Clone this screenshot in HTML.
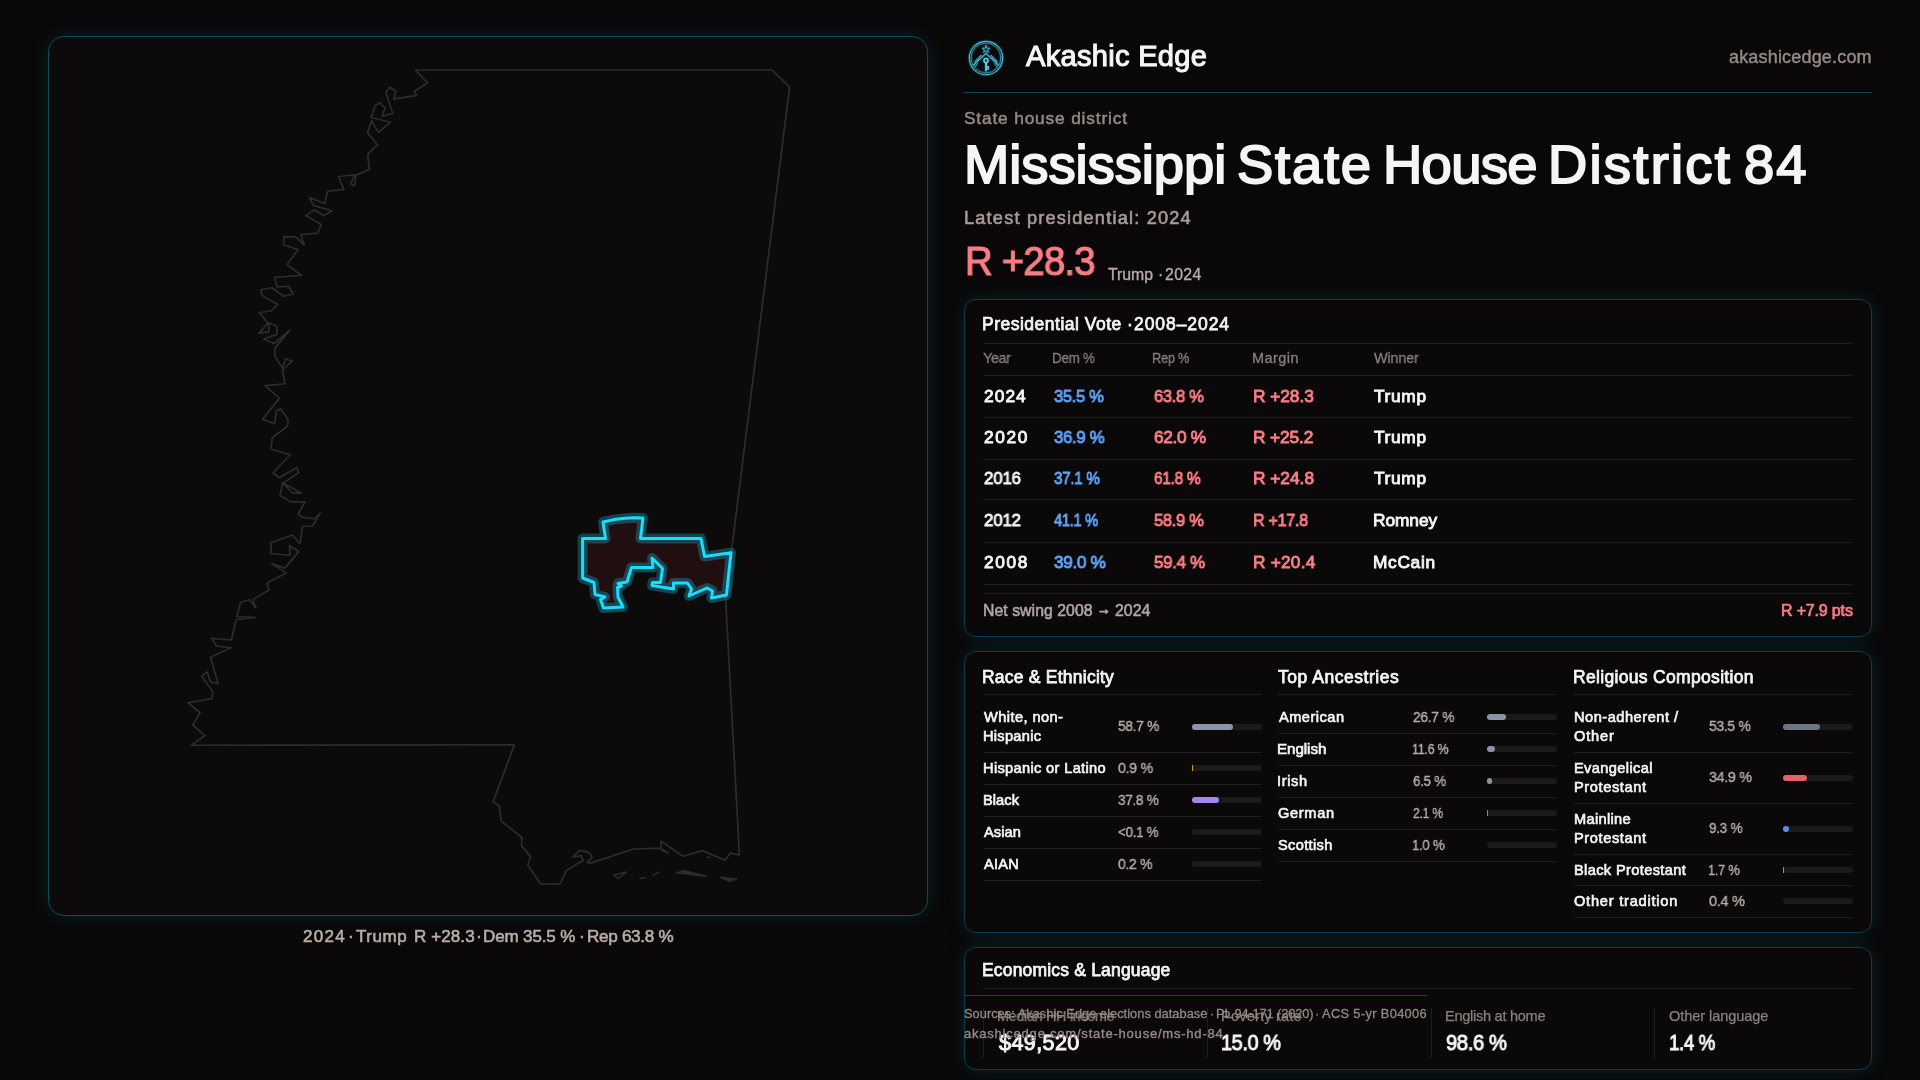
<!DOCTYPE html>
<html lang="en">
<head>
<meta charset="utf-8">
<title>Mississippi State House District 84 · Akashic Edge</title>
<style>
  *{box-sizing:border-box;margin:0;padding:0}
  html,body{width:1920px;height:1080px;overflow:hidden;background:#090708}
  body{font-family:"Liberation Sans",sans-serif;color:#f7f5f3;position:relative}
  .abs{position:absolute;white-space:nowrap;line-height:1;font-weight:400;will-change:transform}
  .map-panel{position:absolute;left:48px;top:36px;width:880px;height:880px;border:1px solid #0f4a58;border-radius:16px;background:#0c0a0b;box-shadow:0 0 20px rgba(26,217,252,.13)}
  .map-svg{position:absolute;left:0;top:0;width:1920px;height:1080px;pointer-events:none}
  .card{position:absolute;left:964px;width:908px;border:1px solid #0b3d4b;border-radius:12px;background:#0a0809;box-shadow:0 0 20px rgba(26,217,252,.13)}
  .hr{position:absolute;height:1px;background:#201d1e}
  .vr{position:absolute;width:1px;background:#201d1e}
  .bar{position:absolute;width:70px;height:6px;border-radius:3px;background:#1c191a}
  .bar i{display:block;height:6px;border-radius:3px}
</style>
</head>
<body>
<section aria-label="District map"><div class="map-panel"></div>
<svg class="map-svg" viewBox="0 0 1920 1080">
<path d="M415.4,70 L427.5,82.7 L414.2,91.5 L416.7,95.4 L393.75,99.2 L395.8,91.25 L390,87.1 L385.8,92.5 L392.9,113.3 L382.1,116.5 L385,107.9 L380,102.7 L375,105.8 L371.25,117.5 L390.4,122.3 L378.3,132.5 L371.8,120.8 L367.5,132.9 L377.5,144.7 L368.75,153.1 L367.75,155.6 L369.4,169.4 L356,175.25 L354.4,185.6 L350.6,184 L354.75,174.75 L338.5,176.5 L343.75,189.4 L327.5,191.25 L324.75,203.5 L309.4,197.5 L313.5,205.4 L332.25,211 L323.75,215.6 L314.4,210 L305.6,215.6 L321.25,224.6 L317.5,233.1 L300.6,234.75 L304.4,245 L295.6,236.9 L284,236.6 L283.5,244.75 L298.1,249.75 L286.9,264.6 L301.5,275.25 L274.4,277.5 L277.25,286.9 L288.5,286.25 L293.1,294 L283.75,296.25 L271.9,287.75 L261,289.75 L261.9,295.6 L277.75,304.4 L271,311 L259.1,312.5 L268.1,323.1 L258.75,333.1 L268.75,331.9 L269,323.1 L276.9,326 L276.9,334.4 L263.5,339 L274,343.5 L289.4,330.6 L275,348.1 L274.75,356.25 L282.5,368.1 L285.6,359 L292.25,361 L282.5,370 L285,383.75 L265,385.6 L279.4,398.1 L262.5,419.4 L274.75,423.75 L276.5,410.6 L281,409 L288.1,420 L287.5,426.25 L272.25,437.75 L271,449 L290.25,454.75 L273.1,472.75 L279,477.75 L296.9,467.75 L298.75,472.75 L283.1,483.1 L301.25,493.1 L292.5,493.1 L282.75,482.75 L280,495.25 L290.25,501.9 L305,501.9 L298.1,514 L301.25,516.9 L314.4,518.75 L320.4,513.1 L312.5,526 L302.5,526.5 L300,543.75 L292.5,535 L271,542.75 L271.25,553.75 L290,555.25 L289.4,545.6 L298.75,551.5 L285,568.1 L271.9,563.75 L286.5,573.1 L266.9,583.1 L269,590 L253.1,599.4 L256,608.1 L249.4,599.75 L240.6,602.5 L236.9,616.5 L255.6,617.5 L236.25,619.4 L231.4,639.8 L211.5,638.5 L216.5,646 L231,647.75 L210.6,657.25 L218.1,683.75 L210.6,681.9 L207.1,671.9 L201.6,675.9 L213.1,691.9 L211.5,698.75 L188.1,702.75 L200,712.75 L192.75,725 L205,735.6 L191.25,745.25 L514.4,744.9 L493.1,801.9 L499.4,806 L501.25,821 L521.9,837.5 L521.5,845.6 L530.6,856.9 L527.75,865 L540.6,884 L560,884 L566.25,870.6 L583.1,860.6 L581,855.6 L573.1,856.9 L579.4,850.6 L588.1,851.9 L592.25,856.9 L587.25,862.5 L590.6,863.1 L633.75,849 L660.6,848.1 L668.1,853.1 L661.5,850 L661,841.25 L683.1,856.25 L702.5,850.6 L725,860.25 L730.25,853.1 L739.4,855 L725.6,598 L789.6,87.1 L772.1,70Z" fill="none" stroke="#2e2b2c" stroke-width="1.7" stroke-linejoin="round"/>
<path d="M613.75,875.25 L626.25,871.9 L618.5,878.5Z" fill="none" stroke="#2e2b2c" stroke-width="1.5" stroke-linejoin="round"/>
<path d="M639.4,878.5 L645.6,877.75" fill="none" stroke="#2e2b2c" stroke-width="1.5" stroke-linejoin="round"/>
<path d="M652.5,875.6 L659.4,871.6" fill="none" stroke="#2e2b2c" stroke-width="1.5" stroke-linejoin="round"/>
<path d="M676.25,872.75 L685,870.6 L706.25,876.25Z" fill="#2e2b2c" stroke="#2e2b2c" stroke-width="1.5" stroke-linejoin="round"/>
<path d="M720,877.25 L729.4,881.25 L736.9,879Z" fill="#2e2b2c" stroke="#2e2b2c" stroke-width="1.5" stroke-linejoin="round"/>
<path d="M706.9,856.9 L710.6,857.75" fill="none" stroke="#2e2b2c" stroke-width="1.5" stroke-linejoin="round"/>
<path d="M603,522 L614,519.6 L625,518.2 L634,517.8 L643,518 L640.5,538.5 L701,538.5 L704.5,556.5 L731,552.8 L726.5,595 L711.5,598 L712.5,591 L707,588 L689,596 L691.5,589 L687.5,583 L673.5,583 L673.5,589 L652,585.5 L652.5,582.5 L660.5,582.5 L662.5,568.5 L652,558 L653,567.5 L631.5,567.5 L627,582 L618,583.5 L621.5,586 L617.5,587.5 L618,597 L623,607 L603.5,608 L600.5,599.5 L605,597 L595,594.5 L594,582.5 L582.6,578 L582.6,538.5 L605.5,538.5Z" fill="#200e10" stroke="#1ad9fc" stroke-opacity="0.28" stroke-width="10" stroke-linejoin="round"/>
<path d="M603,522 L614,519.6 L625,518.2 L634,517.8 L643,518 L640.5,538.5 L701,538.5 L704.5,556.5 L731,552.8 L726.5,595 L711.5,598 L712.5,591 L707,588 L689,596 L691.5,589 L687.5,583 L673.5,583 L673.5,589 L652,585.5 L652.5,582.5 L660.5,582.5 L662.5,568.5 L652,558 L653,567.5 L631.5,567.5 L627,582 L618,583.5 L621.5,586 L617.5,587.5 L618,597 L623,607 L603.5,608 L600.5,599.5 L605,597 L595,594.5 L594,582.5 L582.6,578 L582.6,538.5 L605.5,538.5Z" fill="none" stroke="#19dcff" stroke-width="3" stroke-linejoin="round"/>
</svg>
<p class="map-caption">
<span id="cap0" class="abs " style="top:928.00px;font-size:17.0px;left:302.79px;letter-spacing:1.333px;-webkit-text-stroke:0.6px currentColor;color:#b9aca7;">2024</span>
<span id="cap1" class="abs " style="top:928.00px;font-size:17.5px;left:347.50px;-webkit-text-stroke:0.55px currentColor;color:#b9aca7;">·</span>
<span id="cap2" class="abs " style="top:928.00px;font-size:17.0px;left:356.20px;letter-spacing:0.550px;-webkit-text-stroke:0.6px currentColor;color:#b9aca7;">Trump</span>
<span id="cap3" class="abs " style="top:928.00px;font-size:17.0px;left:413.50px;letter-spacing:0.102px;-webkit-text-stroke:0.6px currentColor;color:#b9aca7;">R +28.3</span>
<span id="cap4" class="abs " style="top:928.00px;font-size:17.5px;left:476.20px;-webkit-text-stroke:0.55px currentColor;color:#b9aca7;">·</span>
<span id="cap5" class="abs " style="top:928.00px;font-size:17.0px;left:483.20px;letter-spacing:-0.133px;-webkit-text-stroke:0.6px currentColor;color:#b9aca7;">Dem 35.5 %</span>
<span id="cap6" class="abs " style="top:928.00px;font-size:17.5px;left:579.40px;-webkit-text-stroke:0.55px currentColor;color:#b9aca7;">·</span>
<span id="cap7" class="abs " style="top:928.00px;font-size:17.0px;left:587.00px;letter-spacing:-0.300px;transform:scaleX(1.0058);transform-origin:0 0;-webkit-text-stroke:0.6px currentColor;color:#b9aca7;">Rep 63.8 %</span>
</p>
</section>
<header>
<svg class="abs" style="left:966px;top:38px;width:40px;height:40px;filter:drop-shadow(0 0 1.2px rgba(40,190,230,.55))" viewBox="-20 -20 40 40" role="img" aria-label="Akashic Edge logo">
  <g fill="none" stroke="#4fc2da" stroke-linecap="round" stroke-linejoin="round">
    <circle r="16.7" stroke-width="1.2" stroke="#47b6ce"/>
    <circle r="14.9" stroke-width="0.9" stroke="#3799b2"/>
    <path d="M0,-4.6 L-12.4,7 M0,-4.6 L12.4,7" stroke-width="1.25"/>
    <path d="M-4.9,-2.6 L-11,3.6 M4.9,-2.6 L11,3.6" stroke-width="1.1" stroke="#43b3cc"/>
    <path d="M-8.6,5.6 L-10.6,8.6 M8.6,5.6 L10.6,8.6" stroke-width="0.9" stroke="#43b3cc"/>
    <path d="M0,-12.6 L1.05,-9.9 L4,-9.9 L1.7,-8.1 L2.5,-5.4 L0,-7 L-2.5,-5.4 L-1.7,-8.1 L-4,-9.9 L-1.05,-9.9 Z" stroke-width="0.8" fill="#4fc2da" fill-opacity=".15"/>
    <circle cx="0" cy="2.6" r="2.05" stroke-width="1.5" stroke="#6ad3e8"/>
    <path d="M0,4.9 L0,12.5" stroke-width="1.8" stroke="#6ad3e8"/>
    <path d="M0.8,8.6 L2.3,8.6 M0.8,10.9 L2.5,10.9 M2.4,8.6 L2.4,10.9" stroke-width="1.1" stroke="#6ad3e8"/>
  </g>
</svg>

<span id="brand" class="abs " style="top:42.00px;font-size:29.1px;left:1026.00px;letter-spacing:0.273px;-webkit-text-stroke:1.1px currentColor;color:#f7f5f3;">Akashic Edge</span>
<span id="site" class="abs " style="top:48.00px;font-size:18px;left:1729.00px;letter-spacing:0.179px;-webkit-text-stroke:0.45px currentColor;color:#968884;">akashicedge.com</span>
<div class="hr" style="left:964px;top:92px;width:908px;background:#0e4553;"></div>
</header>
<section aria-label="District summary">
<p id="kicker" class="abs " style="top:110.00px;font-size:17.3px;left:964.00px;letter-spacing:0.842px;-webkit-text-stroke:0.5px currentColor;color:#968884;">State house district</p>
<h1 style="font-weight:400">
<span id="title0" class="abs " style="top:138.00px;font-size:54.4px;left:963.50px;letter-spacing:-0.075px;transform:scaleX(1.0002);transform-origin:0 0;-webkit-text-stroke:1.9px currentColor;color:#f7f5f3;">Mississippi</span>
<span id="title1" class="abs " style="top:138.00px;font-size:54.4px;left:1237.00px;letter-spacing:1.775px;-webkit-text-stroke:1.9px currentColor;color:#f7f5f3;">State</span>
<span id="title2" class="abs " style="top:138.00px;font-size:54.4px;left:1383.00px;letter-spacing:-0.700px;transform:scaleX(0.9972);transform-origin:0 0;-webkit-text-stroke:1.9px currentColor;color:#f7f5f3;">House</span>
<span id="title3" class="abs " style="top:138.00px;font-size:54.4px;left:1548.00px;letter-spacing:2.244px;-webkit-text-stroke:1.9px currentColor;color:#f7f5f3;">District</span>
<span id="title4" class="abs " style="top:138.00px;font-size:54.4px;left:1744.00px;letter-spacing:1.900px;-webkit-text-stroke:1.9px currentColor;color:#f7f5f3;">84</span>
</h1>
<p id="latest" class="abs " style="top:209.00px;font-size:18.2px;left:964.00px;letter-spacing:1.187px;-webkit-text-stroke:0.6px currentColor;color:#a89a96;">Latest presidential: 2024</p>
<span id="bigm" class="abs " style="top:242.00px;font-size:39.9px;left:965.00px;letter-spacing:-0.798px;transform:scaleX(0.9599);transform-origin:0 0;-webkit-text-stroke:1.2px currentColor;color:#fa7d83;">R +28.3</span>
<p> <span id="bigs0" class="abs " style="top:267.00px;font-size:15.8px;left:1108.20px;-webkit-text-stroke:0.35px currentColor;color:#b9aca7;">Trump</span> <span id="bigs1" class="abs " style="top:267.00px;font-size:15.8px;left:1157.77px;-webkit-text-stroke:0.35px currentColor;color:#b9aca7;">·</span> <span id="bigs2" class="abs " style="top:267.00px;font-size:15.8px;left:1165.20px;letter-spacing:0.367px;-webkit-text-stroke:0.35px currentColor;color:#b9aca7;">2024</span> </p>
</section>
<section aria-label="Presidential vote"><div class="card" style="top:299px;height:338px"></div>
<h2 style="font-weight:400"> <span id="c1t0" class="abs " style="top:316.00px;font-size:17.5px;left:982.00px;letter-spacing:0.500px;-webkit-text-stroke:0.75px currentColor;color:#f7f5f3;">Presidential Vote</span> <span id="c1t1" class="abs " style="top:316.00px;font-size:17.5px;left:1126.69px;-webkit-text-stroke:0.75px currentColor;color:#f7f5f3;">·</span> <span id="c1t2" class="abs " style="top:316.00px;font-size:17.5px;left:1134.00px;letter-spacing:0.938px;-webkit-text-stroke:0.75px currentColor;color:#f7f5f3;">2008–2024</span> </h2>
<div class="hr" style="left:983px;top:343px;width:870px;"></div>
<span id="th0" class="abs " style="top:351.00px;font-size:14.5px;left:983.00px;letter-spacing:-0.290px;transform:scaleX(0.9835);transform-origin:0 0;-webkit-text-stroke:0.3px currentColor;color:#8c7f7b;">Year</span>
<span id="th1" class="abs " style="top:351.00px;font-size:14.5px;left:1052.00px;letter-spacing:-0.290px;transform:scaleX(0.9236);transform-origin:0 0;-webkit-text-stroke:0.3px currentColor;color:#8c7f7b;">Dem %</span>
<span id="th2" class="abs " style="top:351.00px;font-size:14.5px;left:1152.00px;letter-spacing:-0.290px;transform:scaleX(0.8804);transform-origin:0 0;-webkit-text-stroke:0.3px currentColor;color:#8c7f7b;">Rep %</span>
<span id="th3" class="abs " style="top:351.00px;font-size:14.5px;left:1252.00px;letter-spacing:0.450px;-webkit-text-stroke:0.3px currentColor;color:#8c7f7b;">Margin</span>
<span id="th4" class="abs " style="top:351.00px;font-size:14.5px;left:1374.00px;letter-spacing:-0.150px;transform:scaleX(0.9913);transform-origin:0 0;-webkit-text-stroke:0.3px currentColor;color:#8c7f7b;">Winner</span>
<div class="hr" style="left:983px;top:375px;width:870px;"></div>
<span id="r0c0" class="abs " style="top:388.00px;font-size:17.3px;left:983.50px;letter-spacing:1.079px;-webkit-text-stroke:0.9px currentColor;color:#f7f5f3;">2024</span>
<span id="r0c1" class="abs " style="top:388.00px;font-size:17.3px;left:1053.50px;letter-spacing:-0.346px;transform:scaleX(0.9566);transform-origin:0 0;-webkit-text-stroke:0.9px currentColor;color:#5fa2f7;">35.5 %</span>
<span id="r0c2" class="abs " style="top:388.00px;font-size:17.3px;left:1153.50px;letter-spacing:-0.346px;transform:scaleX(0.9566);transform-origin:0 0;-webkit-text-stroke:0.9px currentColor;color:#fa7d83;">63.8 %</span>
<span id="r0c3" class="abs " style="top:388.00px;font-size:17.3px;left:1252.50px;letter-spacing:-0.042px;transform:scaleX(1.0005);transform-origin:0 0;-webkit-text-stroke:0.9px currentColor;color:#fa7d83;">R +28.3</span>
<span id="r0c4" class="abs " style="top:388.00px;font-size:17.3px;left:1373.50px;letter-spacing:0.688px;-webkit-text-stroke:0.9px currentColor;color:#f7f5f3;">Trump</span>
<div class="hr" style="left:983px;top:417px;width:870px;"></div>
<span id="r1c0" class="abs " style="top:429.00px;font-size:17.3px;left:983.50px;letter-spacing:1.667px;-webkit-text-stroke:0.9px currentColor;color:#f7f5f3;">2020</span>
<span id="r1c1" class="abs " style="top:429.00px;font-size:17.3px;left:1053.50px;letter-spacing:-0.346px;transform:scaleX(0.9713);transform-origin:0 0;-webkit-text-stroke:0.9px currentColor;color:#5fa2f7;">36.9 %</span>
<span id="r1c2" class="abs " style="top:429.00px;font-size:17.3px;left:1153.50px;letter-spacing:-0.346px;-webkit-text-stroke:0.9px currentColor;color:#fa7d83;">62.0 %</span>
<span id="r1c3" class="abs " style="top:429.00px;font-size:17.3px;left:1252.50px;letter-spacing:-0.125px;transform:scaleX(1.0004);transform-origin:0 0;-webkit-text-stroke:0.9px currentColor;color:#fa7d83;">R +25.2</span>
<span id="r1c4" class="abs " style="top:429.00px;font-size:17.3px;left:1373.50px;letter-spacing:0.688px;-webkit-text-stroke:0.9px currentColor;color:#f7f5f3;">Trump</span>
<div class="hr" style="left:983px;top:459px;width:870px;"></div>
<span id="r2c0" class="abs " style="top:470.00px;font-size:17.3px;left:983.50px;letter-spacing:-0.167px;transform:scaleX(0.9752);transform-origin:0 0;-webkit-text-stroke:0.9px currentColor;color:#f7f5f3;">2016</span>
<span id="r2c1" class="abs " style="top:470.00px;font-size:17.3px;left:1053.50px;letter-spacing:-0.346px;transform:scaleX(0.8800);transform-origin:0 0;-webkit-text-stroke:0.9px currentColor;color:#5fa2f7;">37.1 %</span>
<span id="r2c2" class="abs " style="top:470.00px;font-size:17.3px;left:1153.50px;letter-spacing:-0.346px;transform:scaleX(0.8948);transform-origin:0 0;-webkit-text-stroke:0.9px currentColor;color:#fa7d83;">61.8 %</span>
<span id="r2c3" class="abs " style="top:470.00px;font-size:17.3px;left:1252.50px;-webkit-text-stroke:0.9px currentColor;color:#fa7d83;">R +24.8</span>
<span id="r2c4" class="abs " style="top:470.00px;font-size:17.3px;left:1373.50px;letter-spacing:0.688px;-webkit-text-stroke:0.9px currentColor;color:#f7f5f3;">Trump</span>
<div class="hr" style="left:983px;top:499px;width:870px;"></div>
<span id="r3c0" class="abs " style="top:512.00px;font-size:17.3px;left:983.50px;letter-spacing:-0.167px;transform:scaleX(0.9752);transform-origin:0 0;-webkit-text-stroke:0.9px currentColor;color:#f7f5f3;">2012</span>
<span id="r3c1" class="abs " style="top:512.00px;font-size:17.3px;left:1053.50px;letter-spacing:-0.346px;transform:scaleX(0.8471);transform-origin:0 0;-webkit-text-stroke:0.9px currentColor;color:#5fa2f7;">41.1 %</span>
<span id="r3c2" class="abs " style="top:512.00px;font-size:17.3px;left:1153.50px;letter-spacing:-0.346px;transform:scaleX(0.9566);transform-origin:0 0;-webkit-text-stroke:0.9px currentColor;color:#fa7d83;">58.9 %</span>
<span id="r3c3" class="abs " style="top:512.00px;font-size:17.3px;left:1252.50px;letter-spacing:-0.346px;transform:scaleX(0.9370);transform-origin:0 0;-webkit-text-stroke:0.9px currentColor;color:#fa7d83;">R +17.8</span>
<span id="r3c4" class="abs " style="top:512.00px;font-size:17.3px;left:1372.50px;letter-spacing:-0.050px;transform:scaleX(1.0004);transform-origin:0 0;-webkit-text-stroke:0.9px currentColor;color:#f7f5f3;">Romney</span>
<div class="hr" style="left:983px;top:542px;width:870px;"></div>
<span id="r4c0" class="abs " style="top:554.00px;font-size:17.3px;left:983.50px;letter-spacing:1.667px;-webkit-text-stroke:0.9px currentColor;color:#f7f5f3;">2008</span>
<span id="r4c1" class="abs " style="top:554.00px;font-size:17.3px;left:1053.50px;letter-spacing:-0.346px;transform:scaleX(0.9948);transform-origin:0 0;-webkit-text-stroke:0.9px currentColor;color:#5fa2f7;">39.0 %</span>
<span id="r4c2" class="abs " style="top:554.00px;font-size:17.3px;left:1153.50px;letter-spacing:-0.346px;transform:scaleX(0.9809);transform-origin:0 0;-webkit-text-stroke:0.9px currentColor;color:#fa7d83;">59.4 %</span>
<span id="r4c3" class="abs " style="top:554.00px;font-size:17.3px;left:1252.50px;letter-spacing:0.212px;-webkit-text-stroke:0.9px currentColor;color:#fa7d83;">R +20.4</span>
<span id="r4c4" class="abs " style="top:554.00px;font-size:17.3px;left:1372.50px;letter-spacing:0.700px;-webkit-text-stroke:0.9px currentColor;color:#f7f5f3;">McCain</span>
<div class="hr" style="left:983px;top:584px;width:870px;"></div>
<div class="hr" style="left:983px;top:593px;width:870px;"></div>
<span id="ns" class="abs " style="top:603.00px;font-size:15.8px;left:982.90px;letter-spacing:0.050px;-webkit-text-stroke:0.55px currentColor;color:#b3a6a1;">Net swing 2008 <span style="-webkit-text-stroke:1.1px currentColor;position:relative;top:-1.6px;font-size:13.5px;letter-spacing:0">→</span> 2024</span>
<span id="nsv" class="abs " style="top:603.00px;font-size:15.9px;left:1781.00px;letter-spacing:-0.167px;transform:scaleX(1.0071);transform-origin:0 0;-webkit-text-stroke:0.7px currentColor;color:#fa7d83;">R +7.9 pts</span>
</section>
<section aria-label="Demographics"><div class="card" style="top:651px;height:282px"></div>
<h2 id="c2t0" class="abs " style="top:669.00px;font-size:17.5px;left:981.75px;letter-spacing:0.230px;-webkit-text-stroke:0.75px currentColor;color:#f7f5f3;font-weight:400;">Race &amp; Ethnicity</h2>
<div class="hr" style="left:983.0px;top:694px;width:279.3499999999999px;"></div>
<span id="l00a" class="abs " style="top:710.00px;font-size:14.6px;left:984.00px;letter-spacing:0.425px;-webkit-text-stroke:0.65px currentColor;color:#f7f5f3;">White, non-</span>
<span id="l00b" class="abs " style="top:729.00px;font-size:14.6px;left:983.00px;letter-spacing:0.286px;-webkit-text-stroke:0.65px currentColor;color:#f7f5f3;">Hispanic</span>
<span id="v00" class="abs " style="top:719.00px;font-size:14.9px;left:1118.00px;letter-spacing:-0.298px;transform:scaleX(0.9169);transform-origin:0 0;-webkit-text-stroke:0.4px currentColor;color:#b9aca7;">58.7 %</span>
<div class="bar" style="left:1192.25px;top:724px"><i style="width:41.09px;background:#8b93a7"></i></div>
<div class="hr" style="left:983.0px;top:752px;width:279.3499999999999px;"></div>
<span id="l01" class="abs " style="top:761.00px;font-size:14.6px;left:983.00px;letter-spacing:0.344px;-webkit-text-stroke:0.65px currentColor;color:#f7f5f3;">Hispanic or Latino</span>
<span id="v01" class="abs " style="top:761.00px;font-size:14.9px;left:1118.00px;letter-spacing:-0.298px;transform:scaleX(0.9509);transform-origin:0 0;-webkit-text-stroke:0.4px currentColor;color:#b9aca7;">0.9 %</span>
<div class="bar" style="left:1192.25px;top:765px"><i style="width:1px;border-radius:0;background:#f5a524;opacity:.92"></i></div>
<div class="hr" style="left:983.0px;top:784px;width:279.3499999999999px;"></div>
<span id="l02" class="abs " style="top:793.00px;font-size:14.6px;left:983.00px;letter-spacing:0.073px;-webkit-text-stroke:0.65px currentColor;color:#f7f5f3;">Black</span>
<span id="v02" class="abs " style="top:793.00px;font-size:14.9px;left:1118.00px;letter-spacing:-0.298px;transform:scaleX(0.9055);transform-origin:0 0;-webkit-text-stroke:0.4px currentColor;color:#b9aca7;">37.8 %</span>
<div class="bar" style="left:1192.25px;top:797px"><i style="width:26.46px;background:#a585f0"></i></div>
<div class="hr" style="left:983.0px;top:816px;width:279.3499999999999px;"></div>
<span id="l03" class="abs " style="top:825.00px;font-size:14.6px;left:984.00px;letter-spacing:0.073px;-webkit-text-stroke:0.65px currentColor;color:#f7f5f3;">Asian</span>
<span id="v03" class="abs " style="top:825.00px;font-size:14.9px;left:1118.00px;letter-spacing:-0.298px;transform:scaleX(0.8965);transform-origin:0 0;-webkit-text-stroke:0.4px currentColor;color:#b9aca7;">&lt;0.1 %</span>
<div class="bar" style="left:1192.25px;top:829px"></div>
<div class="hr" style="left:983.0px;top:848px;width:279.3499999999999px;"></div>
<span id="l04" class="abs " style="top:857.00px;font-size:14.6px;left:984.00px;letter-spacing:0.244px;-webkit-text-stroke:0.65px currentColor;color:#f7f5f3;">AIAN</span>
<span id="v04" class="abs " style="top:857.00px;font-size:14.9px;left:1118.00px;letter-spacing:-0.298px;transform:scaleX(0.9320);transform-origin:0 0;-webkit-text-stroke:0.4px currentColor;color:#b9aca7;">0.2 %</span>
<div class="bar" style="left:1192.25px;top:861px"></div>
<div class="hr" style="left:983.0px;top:880px;width:279.3499999999999px;"></div>
<h2 id="c2t1" class="abs " style="top:669.00px;font-size:17.5px;left:1277.95px;letter-spacing:0.531px;-webkit-text-stroke:0.75px currentColor;color:#f7f5f3;font-weight:400;">Top Ancestries</h2>
<div class="hr" style="left:1278.08px;top:694px;width:279.35000000000014px;"></div>
<span id="l10" class="abs " style="top:710.00px;font-size:14.6px;left:1278.92px;letter-spacing:0.491px;-webkit-text-stroke:0.65px currentColor;color:#f7f5f3;">American</span>
<span id="v10" class="abs " style="top:710.00px;font-size:14.9px;left:1412.92px;letter-spacing:-0.298px;transform:scaleX(0.9201);transform-origin:0 0;-webkit-text-stroke:0.4px currentColor;color:#b9aca7;">26.7 %</span>
<div class="bar" style="left:1487.33px;top:714px"><i style="width:18.69px;background:#8b93a7"></i></div>
<div class="hr" style="left:1278.08px;top:733px;width:279.35000000000014px;"></div>
<span id="l11" class="abs " style="top:742.00px;font-size:14.6px;left:1276.92px;letter-spacing:-0.055px;transform:scaleX(1.0387);transform-origin:0 0;-webkit-text-stroke:0.65px currentColor;color:#f7f5f3;">English</span>
<span id="v11" class="abs " style="top:742.00px;font-size:14.9px;left:1411.92px;letter-spacing:-0.298px;transform:scaleX(0.8349);transform-origin:0 0;-webkit-text-stroke:0.4px currentColor;color:#b9aca7;">11.6 %</span>
<div class="bar" style="left:1487.33px;top:746px"><i style="width:8.12px;background:#8b93a7"></i></div>
<div class="hr" style="left:1278.08px;top:765px;width:279.35000000000014px;"></div>
<span id="l12" class="abs " style="top:774.00px;font-size:14.6px;left:1276.92px;letter-spacing:0.614px;-webkit-text-stroke:0.65px currentColor;color:#f7f5f3;">Irish</span>
<span id="v12" class="abs " style="top:774.00px;font-size:14.9px;left:1412.92px;letter-spacing:-0.298px;transform:scaleX(0.8955);transform-origin:0 0;-webkit-text-stroke:0.4px currentColor;color:#b9aca7;">6.5 %</span>
<div class="bar" style="left:1487.33px;top:778px"><i style="width:4.55px;background:#8b93a7"></i></div>
<div class="hr" style="left:1278.08px;top:797px;width:279.35000000000014px;"></div>
<span id="l13" class="abs " style="top:806.00px;font-size:14.6px;left:1277.92px;letter-spacing:0.682px;-webkit-text-stroke:0.65px currentColor;color:#f7f5f3;">German</span>
<span id="v13" class="abs " style="top:806.00px;font-size:14.9px;left:1412.92px;letter-spacing:-0.298px;transform:scaleX(0.8140);transform-origin:0 0;-webkit-text-stroke:0.4px currentColor;color:#b9aca7;">2.1 %</span>
<div class="bar" style="left:1487.33px;top:810px"><i style="width:1px;border-radius:0;background:#8b93a7;opacity:.92"></i></div>
<div class="hr" style="left:1278.08px;top:829px;width:279.35000000000014px;"></div>
<span id="l14" class="abs " style="top:838.00px;font-size:14.6px;left:1277.92px;letter-spacing:0.349px;-webkit-text-stroke:0.65px currentColor;color:#f7f5f3;">Scottish</span>
<span id="v14" class="abs " style="top:838.00px;font-size:14.9px;left:1411.92px;letter-spacing:-0.298px;transform:scaleX(0.8794);transform-origin:0 0;-webkit-text-stroke:0.4px currentColor;color:#b9aca7;">1.0 %</span>
<div class="bar" style="left:1487.33px;top:842px"></div>
<div class="hr" style="left:1278.08px;top:861px;width:279.35000000000014px;"></div>
<h2 id="c2t2" class="abs " style="top:669.00px;font-size:17.5px;left:1572.50px;letter-spacing:0.320px;-webkit-text-stroke:0.75px currentColor;color:#f7f5f3;font-weight:400;">Religious Composition</h2>
<div class="hr" style="left:1573.65px;top:694px;width:279.3499999999999px;"></div>
<span id="l20a" class="abs " style="top:710.00px;font-size:14.6px;left:1573.60px;letter-spacing:0.519px;-webkit-text-stroke:0.65px currentColor;color:#f7f5f3;">Non-adherent /</span>
<span id="l20b" class="abs " style="top:729.00px;font-size:14.6px;left:1573.60px;letter-spacing:0.825px;-webkit-text-stroke:0.65px currentColor;color:#f7f5f3;">Other</span>
<span id="v20" class="abs " style="top:719.00px;font-size:14.9px;left:1708.60px;letter-spacing:-0.298px;transform:scaleX(0.9285);transform-origin:0 0;-webkit-text-stroke:0.4px currentColor;color:#b9aca7;">53.5 %</span>
<div class="bar" style="left:1782.90px;top:724px"><i style="width:37.45px;background:#6d7483"></i></div>
<div class="hr" style="left:1573.65px;top:752px;width:279.3499999999999px;"></div>
<span id="l21a" class="abs " style="top:761.00px;font-size:14.6px;left:1573.60px;letter-spacing:0.380px;-webkit-text-stroke:0.65px currentColor;color:#f7f5f3;">Evangelical</span>
<span id="l21b" class="abs " style="top:780.00px;font-size:14.6px;left:1573.60px;letter-spacing:0.611px;-webkit-text-stroke:0.65px currentColor;color:#f7f5f3;">Protestant</span>
<span id="v21" class="abs " style="top:770.00px;font-size:14.9px;left:1708.60px;letter-spacing:-0.298px;transform:scaleX(0.9534);transform-origin:0 0;-webkit-text-stroke:0.4px currentColor;color:#b9aca7;">34.9 %</span>
<div class="bar" style="left:1782.90px;top:775px"><i style="width:24.43px;background:#e0626b"></i></div>
<div class="hr" style="left:1573.65px;top:803px;width:279.3499999999999px;"></div>
<span id="l22a" class="abs " style="top:812.00px;font-size:14.6px;left:1573.60px;letter-spacing:0.322px;-webkit-text-stroke:0.65px currentColor;color:#f7f5f3;">Mainline</span>
<span id="l22b" class="abs " style="top:831.00px;font-size:14.6px;left:1573.60px;letter-spacing:0.611px;-webkit-text-stroke:0.65px currentColor;color:#f7f5f3;">Protestant</span>
<span id="v22" class="abs " style="top:821.00px;font-size:14.9px;left:1708.60px;letter-spacing:-0.298px;transform:scaleX(0.9060);transform-origin:0 0;-webkit-text-stroke:0.4px currentColor;color:#b9aca7;">9.3 %</span>
<div class="bar" style="left:1782.90px;top:826px"><i style="width:6.51px;background:#5590ea"></i></div>
<div class="hr" style="left:1573.65px;top:854px;width:279.3499999999999px;"></div>
<span id="l23" class="abs " style="top:863.00px;font-size:14.6px;left:1573.60px;letter-spacing:0.367px;-webkit-text-stroke:0.65px currentColor;color:#f7f5f3;">Black Protestant</span>
<span id="v23" class="abs " style="top:863.00px;font-size:14.9px;left:1707.60px;letter-spacing:-0.298px;transform:scaleX(0.8543);transform-origin:0 0;-webkit-text-stroke:0.4px currentColor;color:#b9aca7;">1.7 %</span>
<div class="bar" style="left:1782.90px;top:867px"><i style="width:1px;border-radius:0;background:#a585f0;opacity:.92"></i></div>
<div class="hr" style="left:1573.65px;top:885px;width:279.3499999999999px;"></div>
<span id="l24" class="abs " style="top:894.00px;font-size:14.6px;left:1573.60px;letter-spacing:0.772px;-webkit-text-stroke:0.65px currentColor;color:#f7f5f3;">Other tradition</span>
<span id="v24" class="abs " style="top:894.00px;font-size:14.9px;left:1708.60px;letter-spacing:-0.298px;transform:scaleX(0.9703);transform-origin:0 0;-webkit-text-stroke:0.4px currentColor;color:#b9aca7;">0.4 %</span>
<div class="bar" style="left:1782.90px;top:898px"></div>
<div class="hr" style="left:1573.65px;top:917px;width:279.3499999999999px;"></div>
</section>
<section aria-label="Economics and language"><div class="card" style="top:947px;height:123px"></div>
<h2 id="c3t" class="abs " style="top:962.00px;font-size:17.5px;left:981.75px;letter-spacing:0.184px;-webkit-text-stroke:0.75px currentColor;color:#f7f5f3;font-weight:400;">Economics &amp; Language</h2>
<div class="hr" style="left:983px;top:988px;width:870px;"></div>
<div class="vr" style="left:983.00px;top:1008px;height:49.5px"></div>
<span id="el0" class="abs " style="top:1009.00px;font-size:14.6px;left:997.00px;letter-spacing:-0.292px;transform:scaleX(0.9821);transform-origin:0 0;-webkit-text-stroke:0.25px currentColor;color:#8c7f7b;">Median HH income</span>
<span id="ev0" class="abs " style="top:1032.00px;font-size:21.6px;left:999.00px;letter-spacing:0.379px;-webkit-text-stroke:0.95px currentColor;color:#f7f5f3;">$49,520</span>
<div class="vr" style="left:1206.80px;top:1008px;height:49.5px"></div>
<span id="el1" class="abs " style="top:1009.00px;font-size:14.6px;left:1220.80px;letter-spacing:0.175px;-webkit-text-stroke:0.25px currentColor;color:#8c7f7b;">Poverty rate</span>
<span id="ev1" class="abs " style="top:1032.00px;font-size:21.6px;left:1221.40px;letter-spacing:-0.432px;transform:scaleX(0.9230);transform-origin:0 0;-webkit-text-stroke:0.95px currentColor;color:#f7f5f3;">15.0 %</span>
<div class="vr" style="left:1430.60px;top:1008px;height:49.5px"></div>
<span id="el2" class="abs " style="top:1009.00px;font-size:14.6px;left:1444.60px;letter-spacing:-0.292px;transform:scaleX(0.9963);transform-origin:0 0;-webkit-text-stroke:0.25px currentColor;color:#8c7f7b;">English at home</span>
<span id="ev2" class="abs " style="top:1032.00px;font-size:21.6px;left:1445.80px;letter-spacing:-0.432px;transform:scaleX(0.9381);transform-origin:0 0;-webkit-text-stroke:0.95px currentColor;color:#f7f5f3;">98.6 %</span>
<div class="vr" style="left:1654.40px;top:1008px;height:49.5px"></div>
<span id="el3" class="abs " style="top:1009.00px;font-size:14.6px;left:1669.40px;letter-spacing:-0.088px;transform:scaleX(0.9995);transform-origin:0 0;-webkit-text-stroke:0.25px currentColor;color:#8c7f7b;">Other language</span>
<span id="ev3" class="abs " style="top:1032.00px;font-size:21.6px;left:1669.20px;letter-spacing:-0.432px;transform:scaleX(0.8654);transform-origin:0 0;-webkit-text-stroke:0.95px currentColor;color:#f7f5f3;">1.4 %</span>
</section>
<footer>
<div class="hr" style="left:964px;top:995px;width:463px;background:#0e4553;"></div>
<p> <span id="f10" class="abs " style="top:1008.00px;font-size:12.8px;left:964.20px;letter-spacing:0.038px;-webkit-text-stroke:0.3px currentColor;color:#968884;">Sources: Akashic Edge elections database</span> <span id="f11" class="abs " style="top:1008.00px;font-size:12.8px;left:1209.87px;-webkit-text-stroke:0.3px currentColor;color:#968884;">·</span> <span id="f12" class="abs " style="top:1008.00px;font-size:12.8px;left:1215.60px;letter-spacing:-0.107px;transform:scaleX(0.9980);transform-origin:0 0;-webkit-text-stroke:0.3px currentColor;color:#968884;">PL 94-171 (2020)</span> <span id="f13" class="abs " style="top:1008.00px;font-size:12.8px;left:1315.47px;-webkit-text-stroke:0.3px currentColor;color:#968884;">·</span> <span id="f14" class="abs " style="top:1008.00px;font-size:12.8px;left:1321.60px;letter-spacing:0.365px;-webkit-text-stroke:0.3px currentColor;color:#968884;">ACS 5-yr B04006</span> </p>
<span id="f2" class="abs " style="top:1027.00px;font-size:13px;left:964.00px;letter-spacing:0.786px;-webkit-text-stroke:0.4px currentColor;color:#968884;">akashicedge.com/state-house/ms-hd-84</span>
</footer>
</body>
</html>
